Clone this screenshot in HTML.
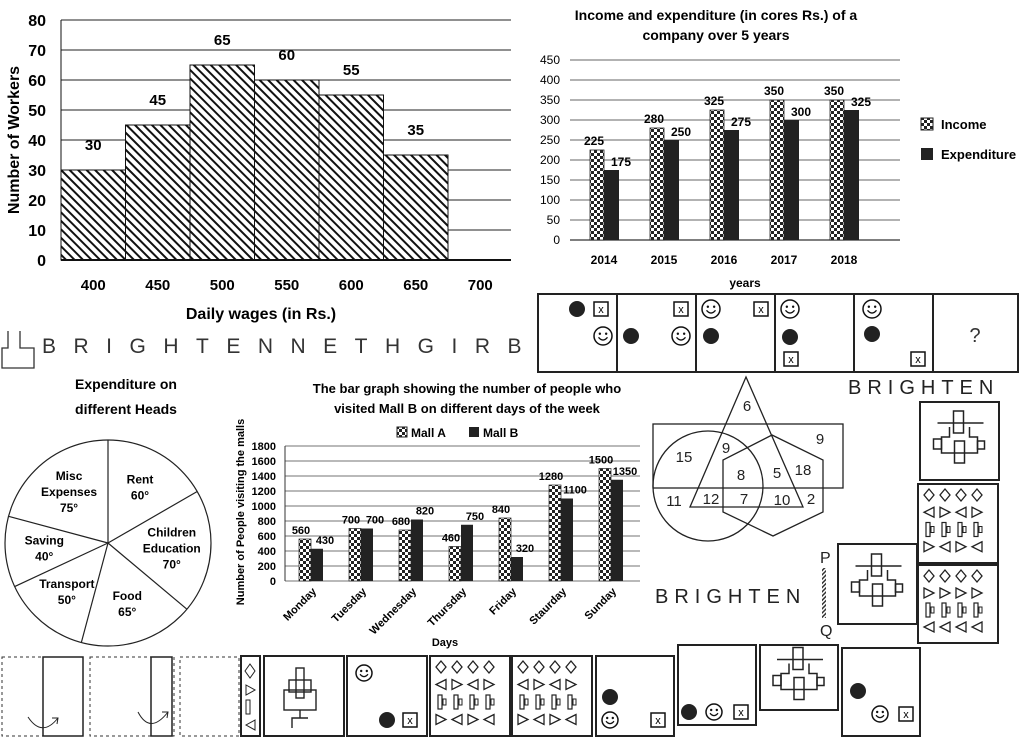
<!DOCTYPE html>
<html><head><meta charset="utf-8"><style>
html,body{margin:0;padding:0;background:#fff;}
svg{display:block;font-family:"Liberation Sans",sans-serif;}
.b{font-weight:bold;}
</style></head><body>
<svg id="s" width="1023" height="739" viewBox="0 0 1023 739" xmlns="http://www.w3.org/2000/svg">
<defs>
<pattern id="hatch" width="6" height="6" patternUnits="userSpaceOnUse" patternTransform="rotate(-45)">
<rect width="6" height="6" fill="#fff"/><rect width="2" height="6" fill="#111"/></pattern>
<pattern id="check" width="6" height="6" patternUnits="userSpaceOnUse">
<rect width="6" height="6" fill="#fff"/><rect width="3" height="3" fill="#222"/><rect x="3" y="3" width="3" height="3" fill="#222"/></pattern>
<pattern id="stripe" width="3" height="3" patternUnits="userSpaceOnUse" patternTransform="rotate(45)"><rect width="3" height="3" fill="#fff"/><rect width="1.5" height="3" fill="#333"/></pattern>
</defs>
<g id="c1"></g>
<g id="c2"></g>
<g id="c3"></g>
<g id="pie"></g>
<g id="misc"></g>
</svg>
<script>
const NS="http://www.w3.org/2000/svg";
function el(p,t,a,txt){const e=document.createElementNS(NS,t);for(const k in a)e.setAttribute(k,a[k]);if(txt!==undefined)e.textContent=txt;p.appendChild(e);return e;}

// ---- chart 1 data
const wageLabels=["400","450","500","550","600","650","700"];
const workerValues=[30,45,65,60,55,35];
const workerTicks=[0,10,20,30,40,50,60,70,80];
// ---- chart 2 data
const years=["2014","2015","2016","2017","2018"];
const incomeValues=[225,280,325,350,350];
const expenditureValues=[175,250,275,300,325];
const incomeTicks=[0,50,100,150,200,250,300,350,400,450];
// ---- chart 3 data
const days=["Monday","Tuesday","Wednesday","Thursday","Friday","Staurday","Sunday"];
const mallAValues=[560,700,680,460,840,1280,1500];
const mallBValues=[430,700,820,750,320,1100,1350];
const mallTicks=[0,200,400,600,800,1000,1200,1400,1600,1800];
// ---- pie data
const pieLabels=[["Rent","60°"],["Children","Education","70°"],["Food","65°"],["Transport","50°"],["Saving","40°"],["Misc","Expenses","75°"]];
const pieDegrees=[60,70,65,50,40,75];

// chart 1
(function(){
const g=document.getElementById('c1');
const y=v=>260-v*3, x0=61, bw=64.5;
workerTicks.forEach(t=>{
 if(t>0){const l=el(g,'line',{x1:x0,x2:511,y1:y(t),y2:y(t),stroke:'#222','stroke-width':1});}
 const tx=el(g,'text',{x:46,y:y(t)+6,'text-anchor':'end','font-size':16,class:'b'},t);
});
workerValues.forEach((v,i)=>{
 const r=el(g,'rect',{x:x0+i*bw,y:y(v),width:bw,height:v*3,fill:'url(#hatch)',stroke:'#111','stroke-width':1});
 
 const t=el(g,'text',{x:x0+i*bw+bw/2,y:y(v)-20,'text-anchor':'middle','font-size':15,class:'b'},v);
 
});
el(g,'line',{x1:x0,x2:511,y1:260,y2:260,stroke:'#111','stroke-width':2});
el(g,'line',{x1:x0,x2:x0,y1:20,y2:260,stroke:'#111','stroke-width':1});
wageLabels.forEach((w,i)=>{const t=el(g,'text',{x:x0+i*bw+bw/2,y:290,'text-anchor':'middle','font-size':15,class:'b'},w);});
const xt=el(g,'text',{x:261,y:319,'text-anchor':'middle','font-size':16,class:'b'},'Daily wages (in Rs.)');
const yt=el(g,'text',{x:0,y:0,'text-anchor':'middle','font-size':16,class:'b',transform:'translate(19,140) rotate(-90)'},'Number of Workers');
})();

// chart 2
(function(){
const g=document.getElementById('c2');
const y=v=>240-v*0.4, gx=(i)=>604+i*60;
const t1=el(g,'text',{x:716,y:20,'text-anchor':'middle','font-size':14,class:'b'},'Income and expenditure (in cores Rs.) of a');
el(g,'text',{x:716,y:40,'text-anchor':'middle','font-size':14,class:'b'},'company over 5 years');
incomeTicks.forEach(t=>{
 const l=el(g,'line',{x1:570,x2:900,y1:y(t),y2:y(t),stroke:'#333','stroke-width':t?0.8:1.2});
 const tx=el(g,'text',{x:560,y:y(t)+4,'text-anchor':'end','font-size':12},t);
});
years.forEach((yr,i)=>{
 const a=el(g,'rect',{x:gx(i)-14,y:y(incomeValues[i]),width:14,height:incomeValues[i]*0.4,fill:'url(#check)',stroke:'#222','stroke-width':0.8});
 const b=el(g,'rect',{x:gx(i),y:y(expenditureValues[i]),width:15,height:expenditureValues[i]*0.4,fill:'#222'});
 const la=el(g,'text',{x:gx(i)-10,y:y(incomeValues[i])-5,'text-anchor':'middle','font-size':12,class:'b'},incomeValues[i]);
 const lb=el(g,'text',{x:gx(i)+17,y:y(expenditureValues[i])-4,'text-anchor':'middle','font-size':12,class:'b'},expenditureValues[i]);
 const xl=el(g,'text',{x:gx(i),y:264,'text-anchor':'middle','font-size':12,class:'b'},yr);
});
const xt=el(g,'text',{x:745,y:287,'text-anchor':'middle','font-size':12,class:'b'},'years');
const l1=el(g,'rect',{x:921,y:118,width:12,height:12,fill:'url(#check)',stroke:'#222'});
const l1t=el(g,'text',{x:941,y:129,'font-size':13,class:'b'},'Income');
const l2=el(g,'rect',{x:921,y:148,width:12,height:12,fill:'#222'});
const l2t=el(g,'text',{x:941,y:159,'font-size':13,class:'b'},'Expenditure');
})();

// chart 3
(function(){
const g=document.getElementById('c3');
const y=v=>581-v*0.075, gx=i=>311+i*50;
const t1=el(g,'text',{x:467,y:393,'text-anchor':'middle','font-size':13,class:'b'},'The bar graph showing the number of people who');
el(g,'text',{x:467,y:413,'text-anchor':'middle','font-size':13,class:'b'},'visited Mall B on different days of the week');
const la=el(g,'rect',{x:397,y:427,width:10,height:10,fill:'url(#check)',stroke:'#222'});
el(g,'text',{x:411,y:437,'font-size':12,class:'b'},'Mall A');
const lb=el(g,'rect',{x:469,y:427,width:10,height:10,fill:'#222'});
el(g,'text',{x:483,y:437,'font-size':12,class:'b'},'Mall B');
mallTicks.forEach(t=>{
 const l=el(g,'line',{x1:285,x2:640,y1:y(t),y2:y(t),stroke:'#444','stroke-width':0.7});
 const tx=el(g,'text',{x:276,y:y(t)+4,'text-anchor':'end','font-size':11,class:'b'},t);
});
el(g,'line',{x1:285,x2:285,y1:446,y2:581,stroke:'#333'});
days.forEach((d,i)=>{
 const a=el(g,'rect',{x:gx(i)-12,y:y(mallAValues[i]),width:12,height:mallAValues[i]*0.075,fill:'url(#check)',stroke:'#222','stroke-width':0.7});
 const b=el(g,'rect',{x:gx(i),y:y(mallBValues[i]),width:12,height:mallBValues[i]*0.075,fill:'#222'});
 const va=el(g,'text',{x:gx(i)-10,y:y(mallAValues[i])-5,'text-anchor':'middle','font-size':11,class:'b'},mallAValues[i]);
 const vb=el(g,'text',{x:gx(i)+14,y:y(mallBValues[i])-5,'text-anchor':'middle','font-size':11,class:'b'},mallBValues[i]);
 const xl=el(g,'text',{x:0,y:0,'text-anchor':'end','font-size':11,class:'b',transform:`translate(${gx(i)+6},592) rotate(-45)`},d);
});
const xt=el(g,'text',{x:445,y:646,'text-anchor':'middle','font-size':11,class:'b'},'Days');
const yt=el(g,'text',{x:0,y:0,'text-anchor':'middle','font-size':11,class:'b',transform:'translate(244,512) rotate(-90)'},'Number of People visiting the malls');
})();

// pie
(function(){
const g=document.getElementById('pie');
const cx=108,cy=543,r=103;
const t=el(g,'text',{x:126,y:389,'text-anchor':'middle','font-size':14,class:'b'},'Expenditure on');
el(g,'text',{x:126,y:414,'text-anchor':'middle','font-size':14,class:'b'},'different Heads');
const c=el(g,'circle',{cx:cx,cy:cy,r:r,fill:'#fff',stroke:'#222','stroke-width':1.2});
let a=-90;
pieDegrees.forEach((d,i)=>{
 const rad=a*Math.PI/180;
 const l=el(g,'line',{x1:cx,y1:cy,x2:cx+r*Math.cos(rad),y2:cy+r*Math.sin(rad),stroke:'#222','stroke-width':1.2});
 const m=(a+d/2)*Math.PI/180, lr=64;
 const lines=pieLabels[i], lx=cx+lr*Math.cos(m), ly=cy+lr*Math.sin(m)-(lines.length-1)*8;
 lines.forEach((s,j)=>{const tx=el(g,'text',{x:lx,y:ly+j*16+4,'text-anchor':'middle','font-size':12,class:'b'},s);});
 a+=d;
});
})();

// misc puzzle figures
(function(){
const g=document.getElementById('misc');
function smiley(x,y,s){el(g,'circle',{cx:x,cy:y,r:s,fill:'#fff',stroke:'#111','stroke-width':1.5});el(g,'circle',{cx:x-s*0.35,cy:y-s*0.25,r:1.2,fill:'#111'});el(g,'circle',{cx:x+s*0.35,cy:y-s*0.25,r:1.2,fill:'#111'});el(g,'path',{d:`M${x-s*0.5} ${y+s*0.15} Q${x} ${y+s*0.75} ${x+s*0.5} ${y+s*0.15}`,fill:'none',stroke:'#111','stroke-width':1.3});}
function xbox(x,y){el(g,'rect',{x:x-7,y:y-7,width:14,height:14,fill:'#fff',stroke:'#111','stroke-width':1.5});el(g,'text',{x:x,y:y+4,'text-anchor':'middle','font-size':11},'x');}
function dot(x,y){el(g,'circle',{cx:x,cy:y,r:8,fill:'#222'});}
// mirrored text
const mt=el(g,'text',{x:42,y:353,'font-size':21,'letter-spacing':'17.5','fill':'#333'},'BRIGHTENNETHGIRBN');
el(g,'path',{d:'M8 331 V348 H2 V368 H34 V348 H20 V331',fill:'none',stroke:'#333','stroke-width':1.3});
// series row
const sr=el(g,'rect',{x:538,y:294,width:480,height:78,fill:'#fff',stroke:'#222','stroke-width':2});
[617,696,775,854,933].forEach(x=>el(g,'line',{x1:x,x2:x,y1:294,y2:372,stroke:'#222','stroke-width':2}));
dot(577,309);xbox(601,309);smiley(603,336,9);
dot(631,336);xbox(681,309);smiley(681,336,9);
smiley(711,309,9);xbox(761,309);dot(711,336);
smiley(790,309,9);dot(790,337);xbox(791,359);
smiley(872,309,9);dot(872,334);xbox(918,359);
el(g,'text',{x:975,y:342,'text-anchor':'middle','font-size':20,fill:'#333'},'?');
// BRIGHTEN words
el(g,'text',{x:848,y:394,'font-size':20,'letter-spacing':'6','fill':'#222'},'BRIGHTEN');
el(g,'text',{x:655,y:603,'font-size':20,'letter-spacing':'6','fill':'#222'},'BRIGHTEN');
el(g,'text',{x:820,y:563,'font-size':16,'fill':'#222'},'P');
el(g,'text',{x:820,y:636,'font-size':16,'fill':'#222'},'Q');
el(g,'rect',{x:822,y:568,width:4,height:50,fill:'url(#stripe)'});
// venn
const v=el(g,'g',{fill:'none',stroke:'#222','stroke-width':1.3});
el(v,'polygon',{points:'746,377 690,507 803,507'});
el(v,'rect',{x:653,y:424,width:190,height:64});
el(v,'circle',{cx:708,cy:486,r:55});
el(v,'polygon',{points:'772,435 823,460 823,512 773,536 723,512 723,460'});
[[747,411,'6'],[820,444,'9'],[684,462,'15'],[726,453,'9'],[741,480,'8'],[777,478,'5'],[803,475,'18'],[674,506,'11'],[711,504,'12'],[744,504,'7'],[782,505,'10'],[811,504,'2']].forEach(p=>el(g,'text',{x:p[0],y:p[1],'text-anchor':'middle','font-size':15,fill:'#222'},p[2]));
// cross figures
function crossFig(x,y,w,h){el(g,'rect',{x:x,y:y,width:w,height:h,fill:'#fff',stroke:'#222','stroke-width':2});const cx=x+w/2,cy=y+h/2;
 const f=el(g,'g',{fill:'none',stroke:'#222','stroke-width':1.5});
 el(f,'line',{x1:cx-22,x2:cx+24,y1:cy-18,y2:cy-18});el(f,'rect',{x:cx-6,y:cy-30,width:10,height:22});
 el(f,'path',{d:`M${cx-10} ${cy-14} V${cy-4} H${cx-18} V${cy+12} H${cx+18} V${cy-4} H${cx+10} V${cy-14}`});
 el(f,'rect',{x:cx-26,y:cy-2,width:8,height:10});el(f,'rect',{x:cx+18,y:cy,width:7,height:8});el(f,'rect',{x:cx-5,y:cy,width:10,height:22});}
crossFig(920,402,79,78);crossFig(838,544,79,80);crossFig(760,645,78,65);
// symbol grids
function symGrid(x,y,w,h,rows){el(g,'rect',{x:x,y:y,width:w,height:h,fill:'#fff',stroke:'#222','stroke-width':2});rows.forEach((r,ri)=>r.forEach((s,ci)=>{const sx=x+11+ci*(w-16)/4,sy=y+11+ri*(h-10)/4;
 if(s=='d')el(g,'polygon',{points:`${sx},${sy-6} ${sx+5},${sy} ${sx},${sy+6} ${sx-5},${sy}`,fill:'none',stroke:'#222','stroke-width':1.3});
 else if(s=='l')el(g,'polygon',{points:`${sx+5},${sy-5} ${sx-5},${sy} ${sx+5},${sy+5}`,fill:'none',stroke:'#222','stroke-width':1.3});
 else if(s=='r')el(g,'polygon',{points:`${sx-5},${sy-5} ${sx+5},${sy} ${sx-5},${sy+5}`,fill:'none',stroke:'#222','stroke-width':1.3});
 else {el(g,'rect',{x:sx-3,y:sy-7,width:4,height:14,fill:'none',stroke:'#222','stroke-width':1.2});el(g,'rect',{x:sx+2,y:sy-3,width:3,height:6,fill:'none',stroke:'#222','stroke-width':1});}
}));}
symGrid(918,484,80,79,[['d','d','d','d'],['l','r','l','r'],['b','b','b','b'],['r','l','r','l']]);
symGrid(918,565,80,78,[['d','d','d','d'],['r','r','r','r'],['b','b','b','b'],['l','l','l','l']]);
symGrid(430,656,80,80,[['d','d','d','d'],['l','r','l','r'],['b','b','b','b'],['r','l','r','l']]);
symGrid(512,656,80,80,[['d','d','d','d'],['l','r','l','r'],['b','b','b','b'],['r','l','r','l']]);
// bottom folded paper
el(g,'rect',{x:2,y:657,width:81,height:79,fill:'none',stroke:'#333','stroke-dasharray':'3,3'});
el(g,'rect',{x:43,y:657,width:40,height:79,fill:'none',stroke:'#222','stroke-width':1.5});
el(g,'rect',{x:90,y:657,width:84,height:79,fill:'none',stroke:'#333','stroke-dasharray':'3,3'});
el(g,'rect',{x:151,y:657,width:21,height:79,fill:'none',stroke:'#222','stroke-width':1.5});
el(g,'rect',{x:180,y:657,width:59,height:79,fill:'none',stroke:'#333','stroke-dasharray':'3,3'});
el(g,'path',{d:'M28 717 Q42 738 58 718 M52 718 L58 718 L57 724',fill:'none',stroke:'#222'});
el(g,'path',{d:'M138 712 Q150 735 168 712 M162 712 L168 712 L167 718',fill:'none',stroke:'#222'});
// strip
el(g,'rect',{x:241,y:656,width:19,height:80,fill:'none',stroke:'#222','stroke-width':2});
el(g,'polygon',{points:'250,664 255,671 250,678 245,671',fill:'none',stroke:'#222'});
el(g,'polygon',{points:'246,685 255,690 246,695',fill:'none',stroke:'#222'});
el(g,'rect',{x:246,y:700,width:4,height:14,fill:'none',stroke:'#222'});
el(g,'polygon',{points:'255,720 246,725 255,730',fill:'none',stroke:'#222'});
// tower box
el(g,'rect',{x:264,y:656,width:80,height:80,fill:'none',stroke:'#222','stroke-width':2});
const tw=el(g,'g',{fill:'none',stroke:'#222','stroke-width':1.4});
el(tw,'rect',{x:296,y:668,width:8,height:30});el(tw,'rect',{x:289,y:680,width:22,height:12});el(tw,'rect',{x:284,y:690,width:32,height:20});el(tw,'path',{d:'M300 710 V718 H292 V728 M300 718 H308'});
// smiley boxes
el(g,'rect',{x:347,y:656,width:80,height:80,fill:'none',stroke:'#222','stroke-width':2});smiley(364,673,8);dot(387,720);xbox(410,720);
el(g,'rect',{x:596,y:656,width:78,height:80,fill:'none',stroke:'#222','stroke-width':2});dot(610,697);smiley(610,720,8);xbox(658,720);
el(g,'rect',{x:678,y:645,width:78,height:80,fill:'none',stroke:'#222','stroke-width':2});dot(689,712);smiley(714,712,8);xbox(741,712);
el(g,'rect',{x:842,y:648,width:78,height:88,fill:'none',stroke:'#222','stroke-width':2});dot(858,691);smiley(880,714,8);xbox(906,714);
})();
</script>
</body></html>
